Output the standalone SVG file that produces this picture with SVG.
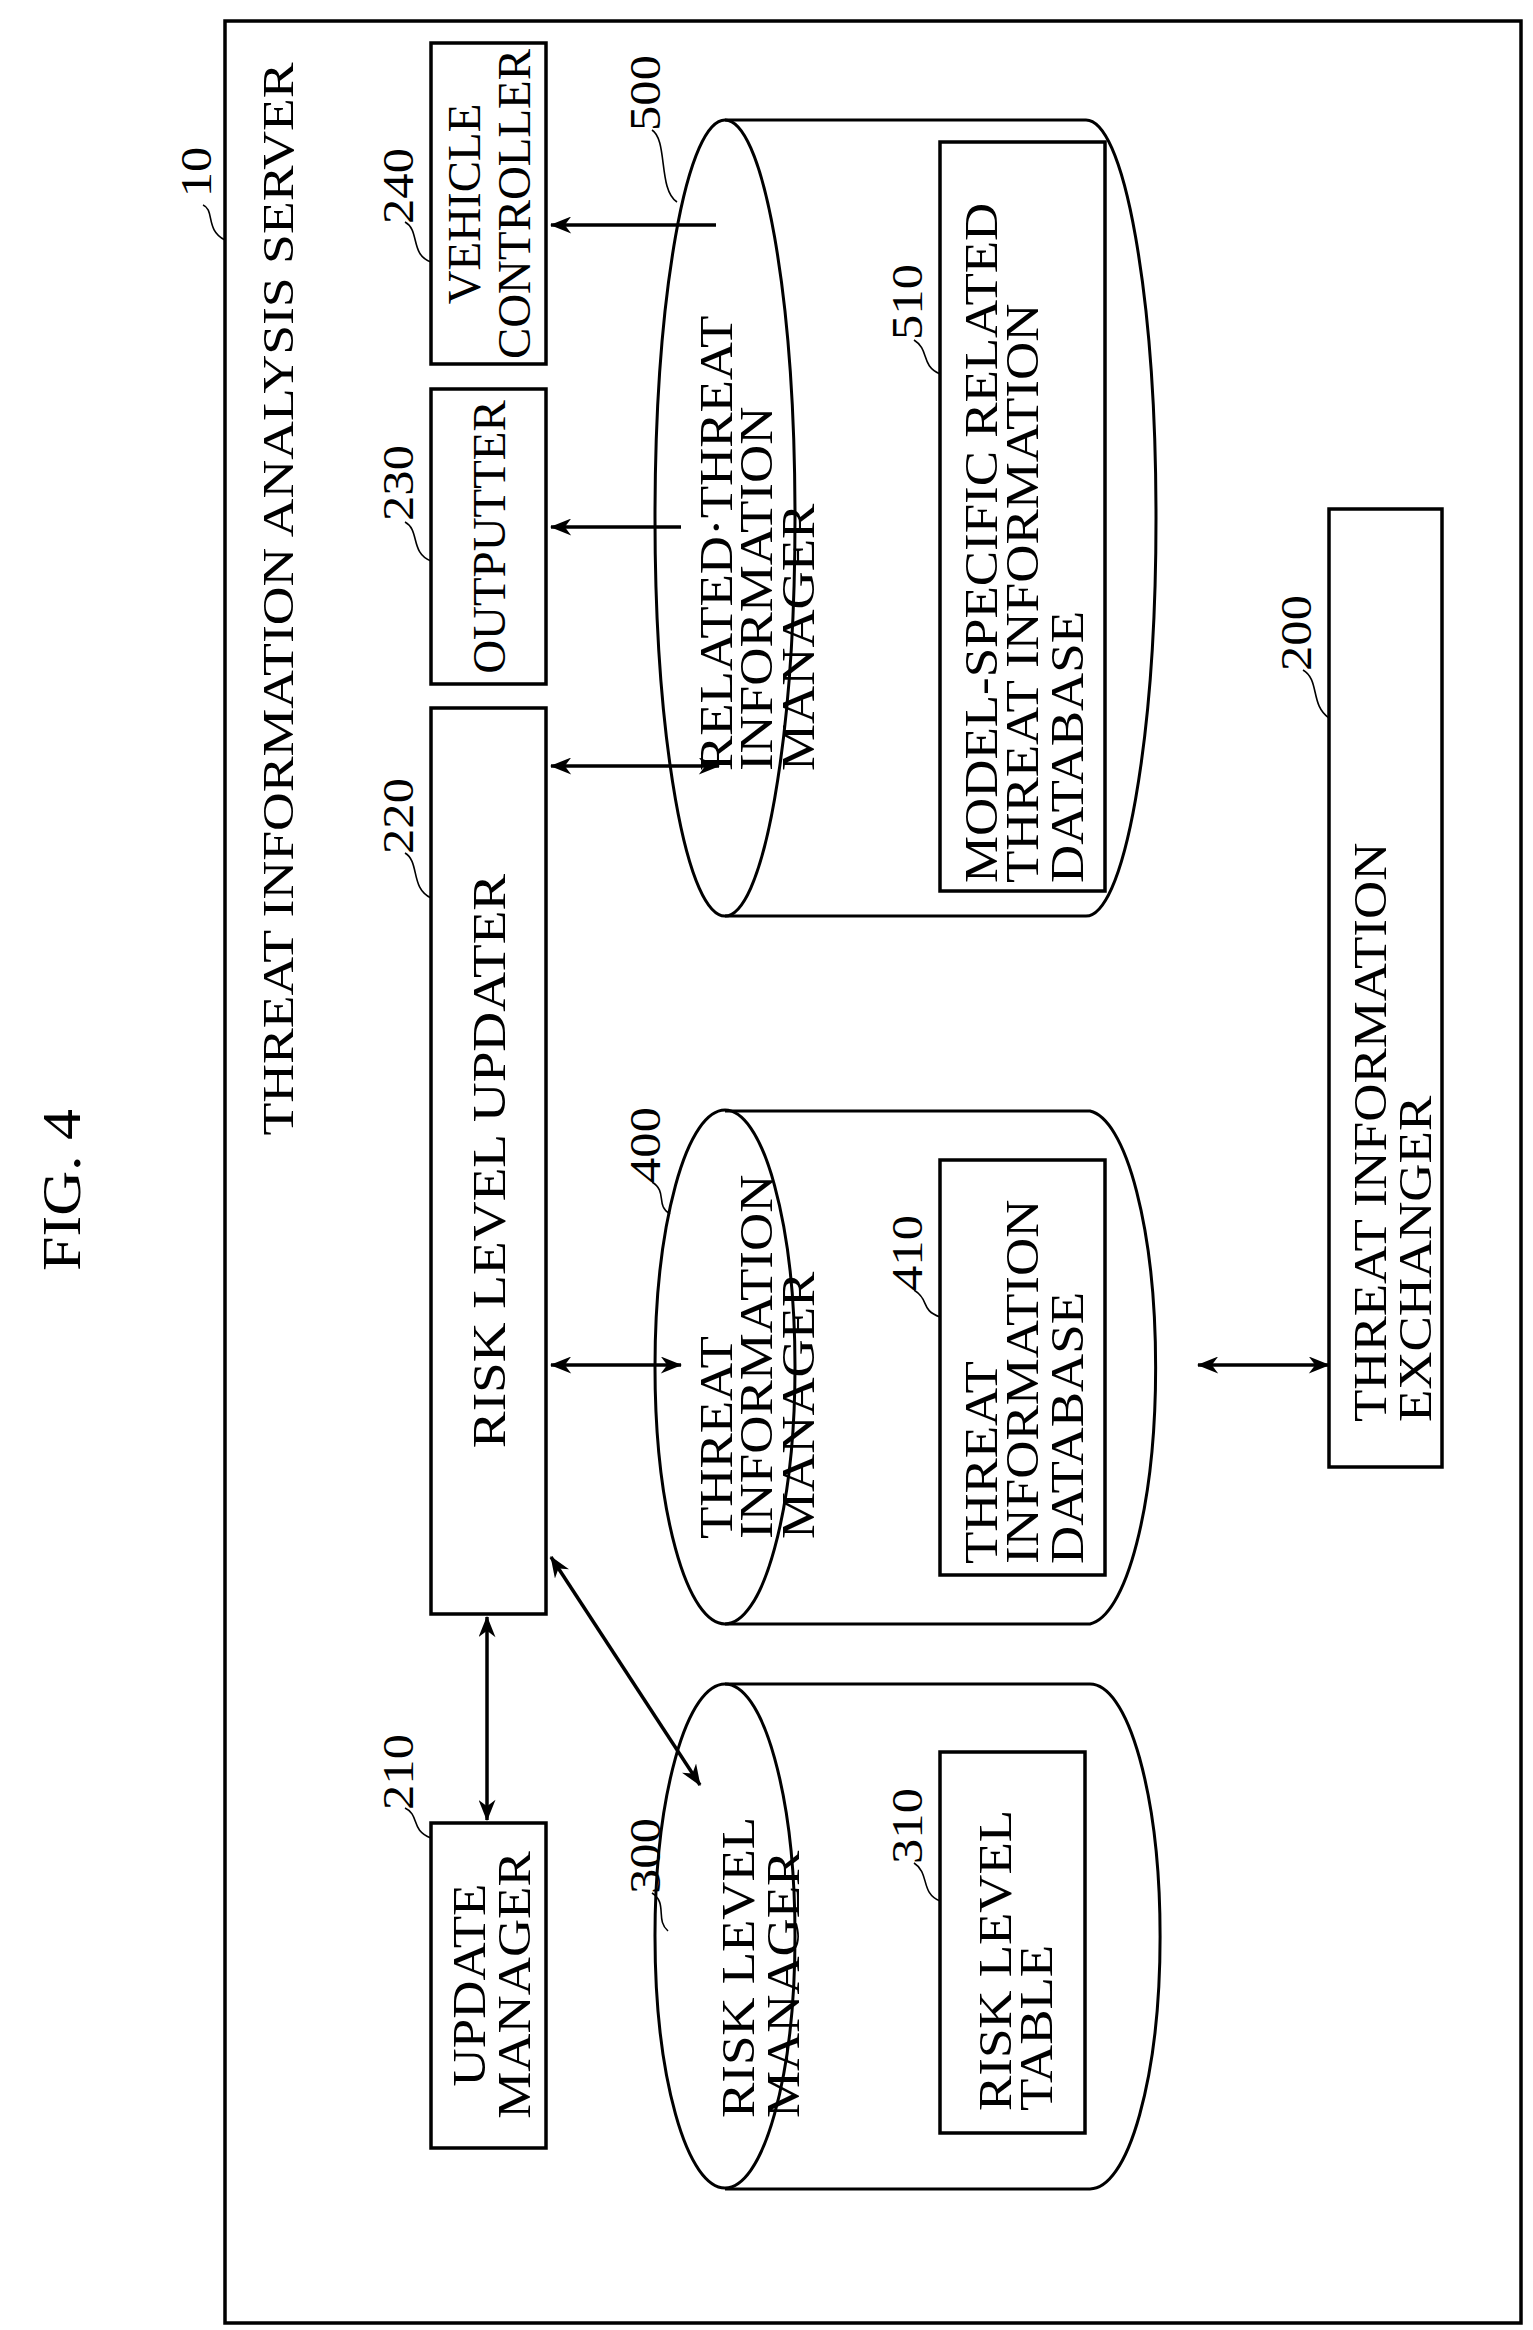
<svg xmlns="http://www.w3.org/2000/svg" width="1533" height="2330" viewBox="0 0 1533 2330">
<defs>
<style>
.b{fill:none;stroke:#000;stroke-width:3.5}
.c{fill:none;stroke:#000;stroke-width:3}
.l{fill:none;stroke:#000;stroke-width:1.6}
text{font-family:"Liberation Serif","DejaVu Serif",serif;font-size:46px;fill:#000}
.n{font-size:44px}
.m{text-anchor:middle}
</style>
<marker id="a" viewBox="0 0 20 16" refX="19" refY="8" markerWidth="22" markerHeight="17" markerUnits="userSpaceOnUse" orient="auto-start-reverse">
<path d="M0,0 L20,8 L0,16 L6,8 z" fill="#000"/>
</marker>
</defs>
<rect width="1533" height="2330" fill="#fff"/>
<text class="m" transform="translate(80,1190) rotate(-90) scale(1.15,1)" style="font-size:54px">FIG. 4</text>
<g id="n10">
<rect class="b" x="225" y="21" width="1296" height="2302"/>
<text class="n m" transform="translate(211,172) rotate(-90) scale(1.15,1)">10</text>
<path class="l" d="M203,205 C215,210 205,230 225,240"/>
<text class="m" transform="translate(293,599) rotate(-90) scale(1.22,1)" style="font-size:44px">THREAT INFORMATION ANALYSIS SERVER</text>
</g>
<g id="n240">
<rect class="b" x="431" y="43" width="115" height="321"/>
<text class="m" transform="translate(480,204) rotate(-90) scale(1.02,1)">VEHICLE</text>
<text class="m" transform="translate(530,204) rotate(-90) scale(1.02,1)">CONTROLLER</text>
<text class="n m" transform="translate(413,186) rotate(-90) scale(1.15,1)">240</text>
<path class="l" d="M405,222 C420,230 410,255 431,262"/>
</g>
<g id="n230">
<rect class="b" x="431" y="389" width="115" height="295"/>
<text class="m" transform="translate(505,537) rotate(-90) scale(1.02,1)">OUTPUTTER</text>
<text class="n m" transform="translate(413,483) rotate(-90) scale(1.15,1)">230</text>
<path class="l" d="M405,522 C420,530 410,553 431,561"/>
</g>
<g id="n220">
<rect class="b" x="431" y="708" width="115" height="906"/>
<text class="m" transform="translate(505,1161) rotate(-90) scale(1.2,1)">RISK LEVEL UPDATER</text>
<text class="n m" transform="translate(413,816) rotate(-90) scale(1.15,1)">220</text>
<path class="l" d="M405,853 C420,862 410,888 431,898"/>
</g>
<g id="n210">
<rect class="b" x="431" y="1823" width="115" height="325"/>
<text class="m" transform="translate(485,1985) rotate(-90) scale(1.15,1)">UPDATE</text>
<text class="m" transform="translate(530,1985) rotate(-90) scale(1.15,1)">MANAGER</text>
<text class="n m" transform="translate(413,1772) rotate(-90) scale(1.15,1)">210</text>
<path class="l" d="M405,1808 C420,1815 410,1830 431,1838"/>
</g>
<g id="n500">
<path class="c" d="M725,120 H1086 A70,398 0 0 1 1086,916 H725"/>
<ellipse class="c" cx="725" cy="518" rx="70" ry="398"/>
<text transform="translate(732,771) rotate(-90) scale(1.15,1)">RELATED·THREAT</text>
<text transform="translate(772,771) rotate(-90) scale(1.15,1)">INFORMATION</text>
<text transform="translate(814,771) rotate(-90) scale(1.15,1)">MANAGER</text>
<text class="n m" transform="translate(660,93) rotate(-90) scale(1.15,1)">500</text>
<path class="l" d="M652,130 C668,140 658,190 677,202"/>
</g>
<g id="n510">
<rect class="b" x="940" y="142" width="165" height="749"/>
<text transform="translate(997,883) rotate(-90) scale(1.15,1)">MODEL-SPECIFIC RELATED</text>
<text transform="translate(1038,883) rotate(-90) scale(1.15,1)">THREAT INFORMATION</text>
<text transform="translate(1083,883) rotate(-90) scale(1.15,1)">DATABASE</text>
<text class="n m" transform="translate(922,302) rotate(-90) scale(1.15,1)">510</text>
<path class="l" d="M914,340 C930,350 920,365 940,374"/>
</g>
<g id="n400">
<path class="c" d="M725,1111 H1090 A70,257 0 0 1 1090,1624 H725"/>
<ellipse class="c" cx="725" cy="1367" rx="70" ry="257"/>
<text transform="translate(732,1539) rotate(-90) scale(1.15,1)">THREAT</text>
<text transform="translate(772,1539) rotate(-90) scale(1.15,1)">INFORMATION</text>
<text transform="translate(814,1539) rotate(-90) scale(1.15,1)">MANAGER</text>
<text class="n m" transform="translate(660,1145) rotate(-90) scale(1.15,1)">400</text>
<path class="l" d="M652,1182 C668,1192 655,1205 670,1214"/>
</g>
<g id="n410">
<rect class="b" x="940" y="1160" width="165" height="415"/>
<text transform="translate(997,1564) rotate(-90) scale(1.15,1)">THREAT</text>
<text transform="translate(1038,1564) rotate(-90) scale(1.15,1)">INFORMATION</text>
<text transform="translate(1083,1564) rotate(-90) scale(1.15,1)">DATABASE</text>
<text class="n m" transform="translate(922,1253) rotate(-90) scale(1.15,1)">410</text>
<path class="l" d="M914,1290 C930,1300 920,1310 940,1317"/>
</g>
<g id="n300">
<path class="c" d="M725,1684 H1090 A70,252 0 0 1 1090,2189 H725"/>
<ellipse class="c" cx="725" cy="1936" rx="70" ry="252"/>
<text transform="translate(754,2118) rotate(-90) scale(1.15,1)">RISK LEVEL</text>
<text transform="translate(799,2118) rotate(-90) scale(1.15,1)">MANAGER</text>
<text class="n m" transform="translate(660,1856) rotate(-90) scale(1.15,1)">300</text>
<path class="l" d="M652,1893 C668,1903 655,1920 668,1931"/>
</g>
<g id="n310">
<rect class="b" x="940" y="1752" width="145" height="381"/>
<text transform="translate(1011,2111) rotate(-90) scale(1.15,1)">RISK LEVEL</text>
<text transform="translate(1052,2111) rotate(-90) scale(1.15,1)">TABLE</text>
<text class="n m" transform="translate(922,1826) rotate(-90) scale(1.15,1)">310</text>
<path class="l" d="M914,1863 C930,1873 920,1893 940,1901"/>
</g>
<g id="n200">
<rect class="b" x="1329" y="509" width="113" height="958"/>
<text transform="translate(1386,1422) rotate(-90) scale(1.15,1)">THREAT INFORMATION</text>
<text transform="translate(1431,1422) rotate(-90) scale(1.15,1)">EXCHANGER</text>
<text class="n m" transform="translate(1311,633) rotate(-90) scale(1.15,1)">200</text>
<path class="l" d="M1303,670 C1320,680 1310,705 1329,718"/>
</g>
<g id="connectors" stroke="#000" stroke-width="3.5" fill="none">
<line x1="716" y1="225" x2="551" y2="225" marker-end="url(#a)"/>
<line x1="681" y1="527" x2="551" y2="527" marker-end="url(#a)"/>
<line x1="551" y1="766" x2="719" y2="766" marker-start="url(#a)" marker-end="url(#a)"/>
<line x1="551" y1="1365" x2="681" y2="1365" marker-start="url(#a)" marker-end="url(#a)"/>
<line x1="1198" y1="1365" x2="1329" y2="1365" marker-start="url(#a)" marker-end="url(#a)"/>
<line x1="487" y1="1617" x2="487" y2="1820" marker-start="url(#a)" marker-end="url(#a)"/>
<line x1="551" y1="1557" x2="700" y2="1785" marker-start="url(#a)" marker-end="url(#a)"/>
</g>
</svg>
